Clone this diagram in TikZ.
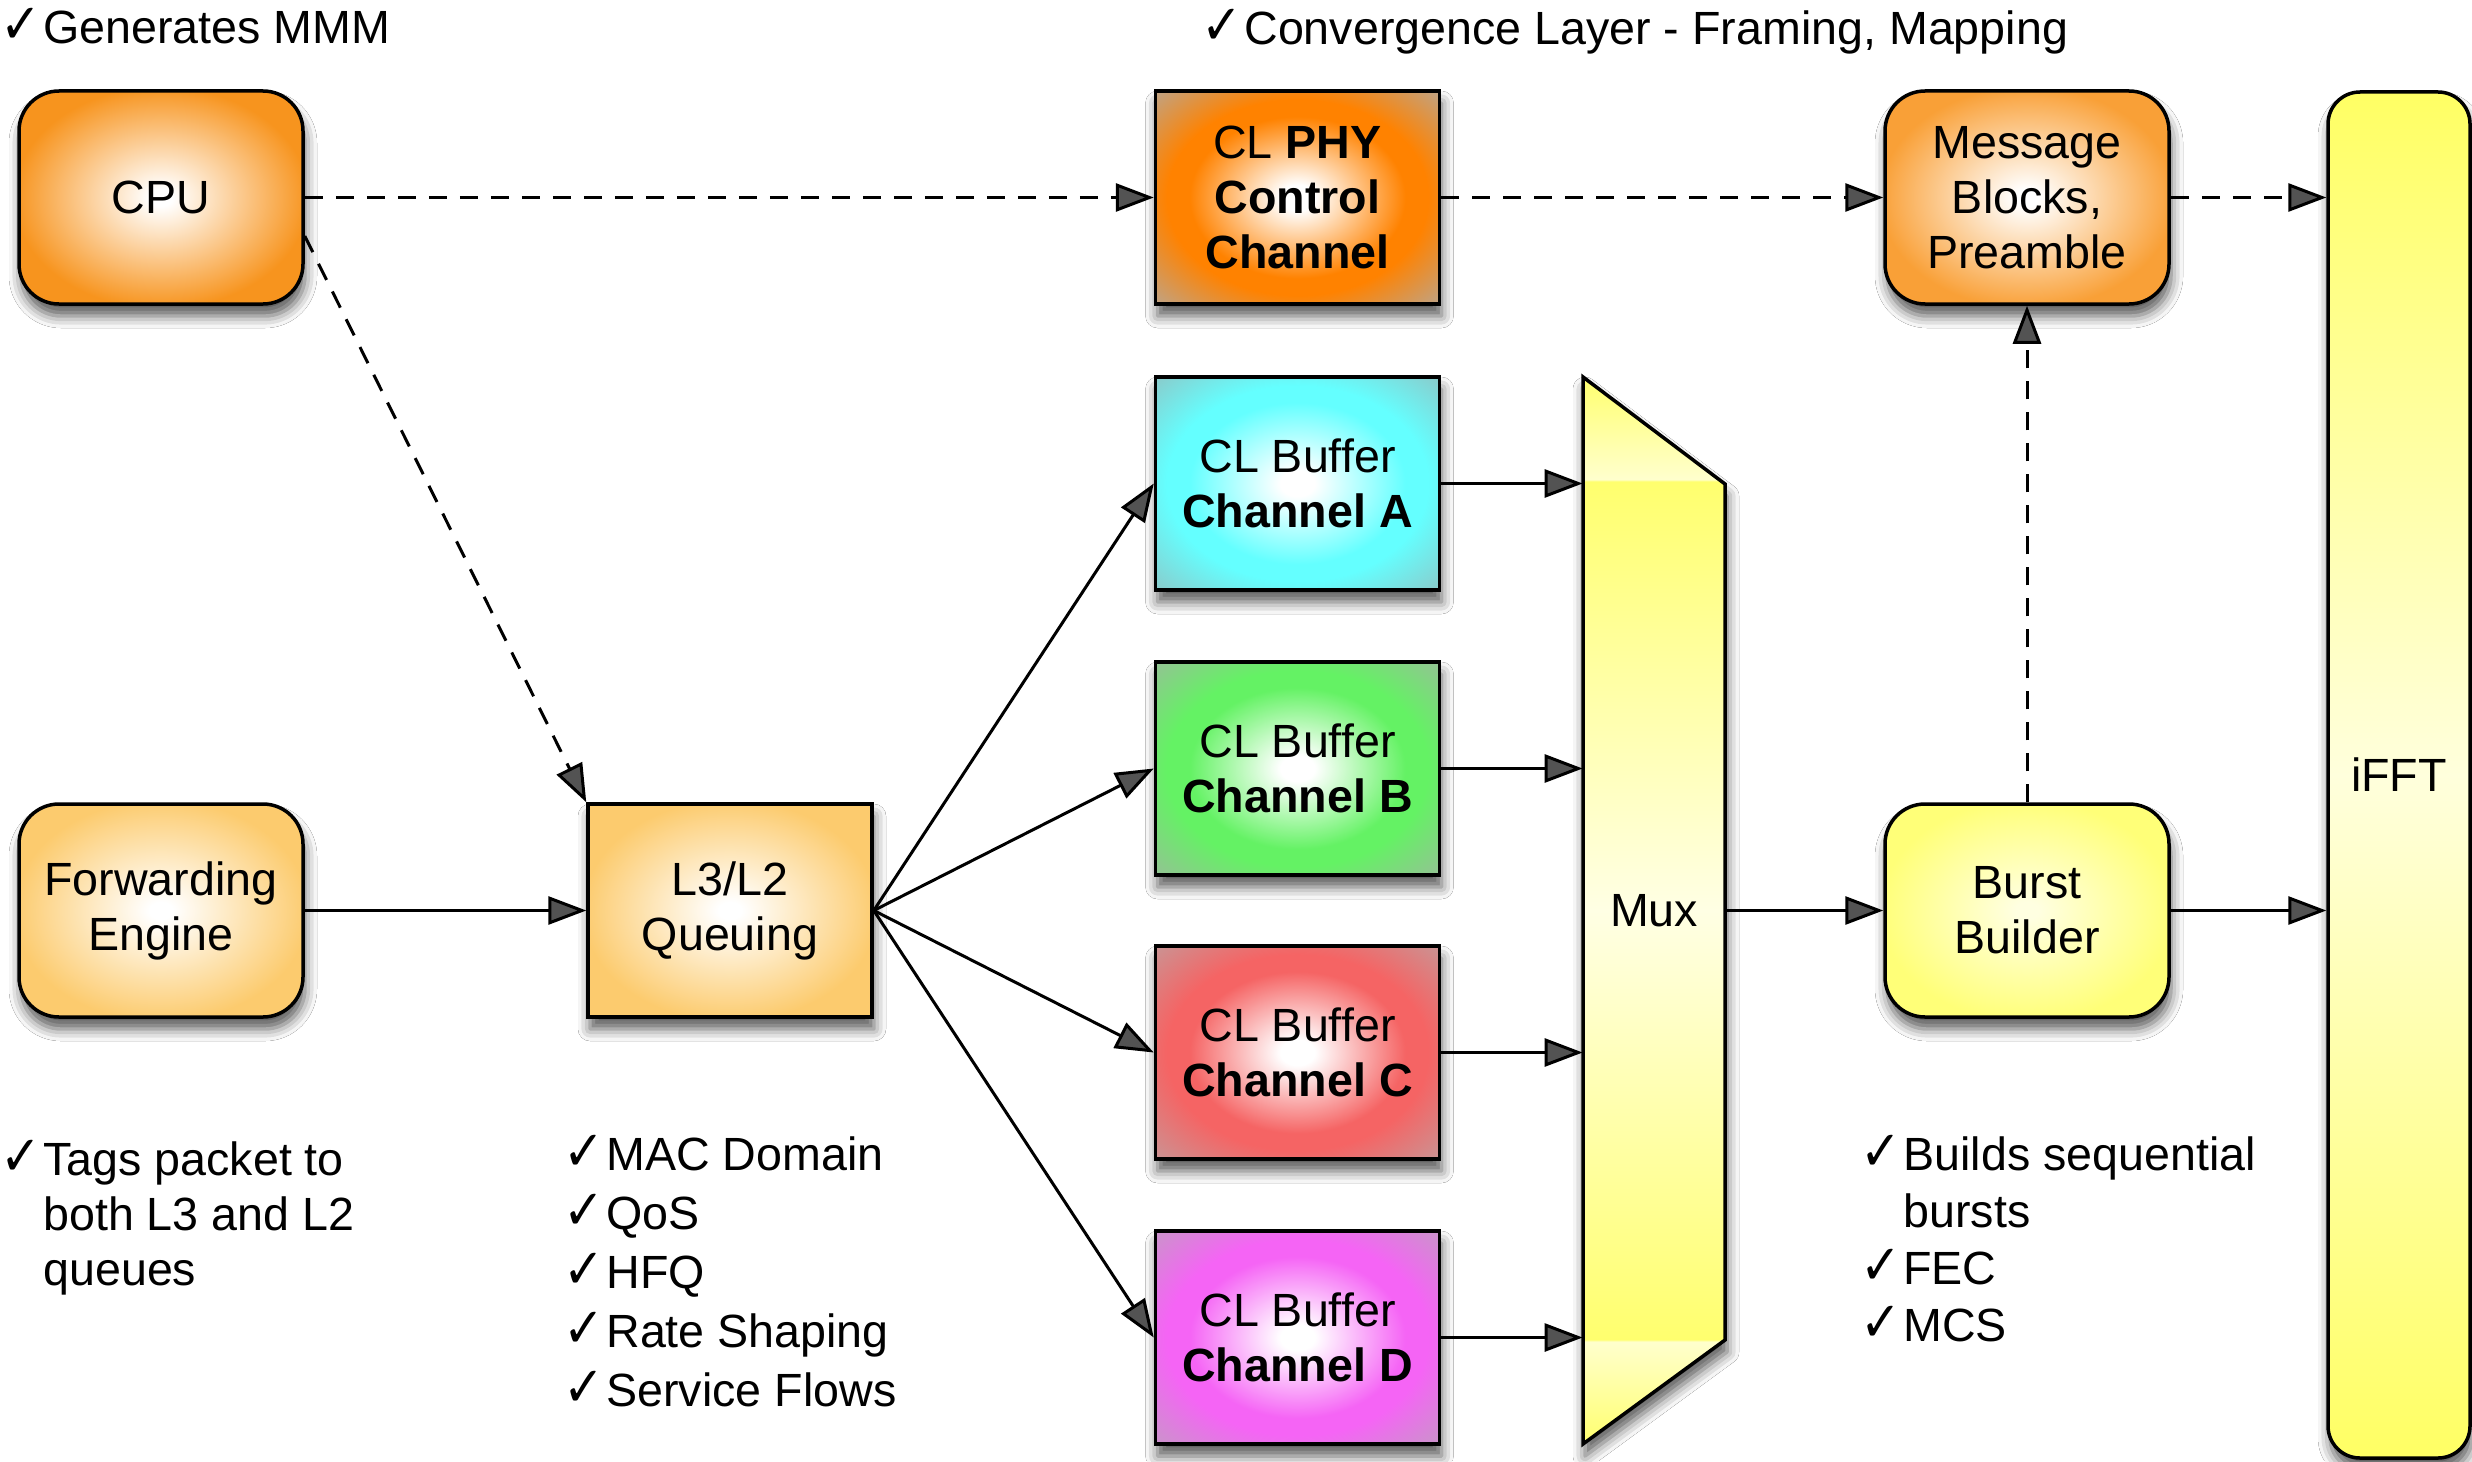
\documentclass[tikz,border=0pt]{standalone}
\usepackage{fontspec}
\usepackage{graphicx}
\setmainfont{Liberation Sans}
\newfontfamily\symfont{DejaVu Sans}
\usetikzlibrary{arrows.meta,shadows.blur,calc}
\definecolor{cpuOr}{RGB}{247,148,30}
\definecolor{msgOr}{RGB}{249,160,55}
\definecolor{phyOr}{RGB}{255,130,0}
\definecolor{phyOut}{RGB}{188,165,140}
\definecolor{feOr}{RGB}{252,203,110}
\definecolor{chA}{RGB}{100,255,255}
\definecolor{chAo}{RGB}{140,200,200}
\definecolor{chB}{RGB}{100,242,100}
\definecolor{chBo}{RGB}{150,192,150}
\definecolor{chC}{RGB}{245,100,100}
\definecolor{chCo}{RGB}{200,150,150}
\definecolor{chD}{RGB}{245,100,245}
\definecolor{chDo}{RGB}{200,150,200}
\definecolor{yel}{RGB}{255,255,120}
\definecolor{burstIn}{RGB}{255,255,225}
\definecolor{ifY}{RGB}{255,255,100}
\definecolor{ifP}{RGB}{255,255,220}
\definecolor{muxY}{RGB}{255,255,110}
\definecolor{muxP}{RGB}{255,255,205}
\definecolor{muxW}{RGB}{255,255,228}
\pgfdeclareradialshading[glowin,glowmid,glowout]{glow}{\pgfpoint{0bp}{0bp}}{color(0bp)=(glowin); color(3bp)=(glowin); color(19bp)=(glowmid); color(23bp)=(glowmid); color(36bp)=(glowout); color(50bp)=(glowout)}
\pgfdeclareradialshading[softin,softout]{softglow}{\pgfpoint{0bp}{0bp}}{color(0bp)=(softin); color(2bp)=(softin); color(26bp)=(softout); color(50bp)=(softout)}
\pgfdeclareverticalshading{muxshade}{100bp}{color(0bp)=(muxY); color(25bp)=(muxY); color(29.8bp)=(muxP); color(29.9bp)=(muxY); color(50bp)=(muxW); color(70.1bp)=(muxY); color(70.2bp)=(muxP); color(75bp)=(muxY); color(100bp)=(muxY)}
\newcommand\chk{\makebox[21.5pt][l]{\scalebox{1.05}[1.2]{\symfont ✓}}}
\begin{document}
\begin{tikzpicture}[x=0.5pt,y=-0.5pt,
  font=\fontsize{23.3}{27.5}\selectfont,
  shadowed/.style={blur shadow={shadow xshift=1pt, shadow yshift=-6pt, shadow blur radius=6pt, shadow opacity=65}},
  box/.style={draw, line width=1.75pt, align=center, inner sep=0pt, minimum width=142pt, minimum height=106.5pt, shadowed},
  rbox/.style={box, rounded corners=20pt},
  glowfill/.style n args={3}{/utils/exec={\colorlet{glowin}{#1}\colorlet{glowmid}{#2}\colorlet{glowout}{#3}}, shade, shading=glow},
  softfill/.style 2 args={/utils/exec={\colorlet{softin}{#1}\colorlet{softout}{#2}}, shade, shading=softglow},
  arr/.style={line width=1.5pt, -{Triangle[length=19pt,width=14pt]}},
  dasharr/.style={arr, dash pattern=on 9pt off 6.5pt},
  note/.style={anchor=base west, inner sep=0pt, align=left}]
\useasboundingbox[fill=white] (0,0) rectangle (2472,1461);

% boxes
\node[rbox, softfill={white}{cpuOr}] (cpu) at (161,197.5) {CPU};
\node[box, glowfill={white}{phyOr}{phyOut}] (phy) at (1297.5,197.5) {CL \textbf{PHY}\\\textbf{Control}\\\textbf{Channel}};
\node[rbox, softfill={white}{msgOr}] (msg) at (2027,197.5) {Message\\Blocks,\\Preamble};
\node[rbox, softfill={white}{feOr}] (fe) at (161,910.5) {Forwarding\\Engine};
\node[box, softfill={white}{feOr}] (l3) at (730,910.5) {L3/L2\\Queuing};
\node[box, glowfill={white}{chA}{chAo}] (cha) at (1297.5,483.5) {CL Buffer\\\textbf{Channel A}};
\node[box, glowfill={white}{chB}{chBo}] (chb) at (1297.5,768.5) {CL Buffer\\\textbf{Channel B}};
\node[box, glowfill={white}{chC}{chCo}] (chc) at (1297.5,1052.5) {CL Buffer\\\textbf{Channel C}};
\node[box, glowfill={white}{chD}{chDo}] (chd) at (1297.5,1337.5) {CL Buffer\\\textbf{Channel D}};
\node[rbox, softfill={burstIn}{yel}] (burst) at (2027,910.5) {Burst\\Builder};
\node[draw, line width=1.75pt, rounded corners=16pt, inner sep=0pt, minimum width=71pt, minimum height=683pt, top color=ifY, bottom color=ifY, middle color=ifP, shadowed] (ifft) at (2399,775) {iFFT};

% mux
\coordinate (muxnw) at (1583,377);
\coordinate (muxne) at (1725,484);
\coordinate (muxse) at (1725,1340);
\coordinate (muxsw) at (1583,1444);
\path[draw, line width=1.75pt, shade, shading=muxshade, shadowed] (muxnw) -- (muxne) -- (muxse) -- (muxsw) -- cycle;
\node[inner sep=0pt, minimum width=71pt, minimum height=533.5pt] (mux) at (1654,910.5) {Mux};

% connectors
\draw[dasharr] (cpu.east) -- (phy.west);
\draw[dasharr] (phy.east) -- (msg.west);
\draw[dasharr] (msg.east) -- (msg.east -| ifft.west);
\draw[dasharr] ($(cpu.east)+(0,38.5)$) -- (l3.north west);
\draw[dasharr] (burst.north) -- (msg.south);
\draw[arr] (fe.east) -- (l3.west);
\draw[arr] (l3.east) -- (cha.west);
\draw[arr] (l3.east) -- (chb.west);
\draw[arr] (l3.east) -- (chc.west);
\draw[arr] (l3.east) -- (chd.west);
\draw[arr] (cha.east) -- (cha.east -| mux.west);
\draw[arr] (chb.east) -- (chb.east -| mux.west);
\draw[arr] (chc.east) -- (chc.east -| mux.west);
\draw[arr] (chd.east) -- (chd.east -| mux.west);
\draw[arr] (mux.east |- burst.west) -- (burst.west);
\draw[arr] (burst.east) -- (burst.east -| ifft.west);

% notes
\node[note] (gen) at (0,44) {\chk Generates MMM};
\node[note] (conv) at (1201,45) {\chk Convergence Layer - Framing, Mapping};
\node[note, font=\fontsize{23.3}{27.5}\selectfont] (tags) at (0,1175) {\begin{tabular}[t]{@{}l@{}l@{}}\chk&Tags packet to\\&both L3 and L2\\&queues\end{tabular}};
\node[note, font=\fontsize{23.3}{29.5}\selectfont] (mac) at (563,1170) {\begin{tabular}[t]{@{}l@{}l@{}}\chk&MAC Domain\\\chk&QoS\\\chk&HFQ\\\chk&Rate Shaping\\\chk&Service Flows\end{tabular}};
\node[note, font=\fontsize{23.3}{28.5}\selectfont] (builds) at (1860,1170) {\begin{tabular}[t]{@{}l@{}l@{}}\chk&Builds sequential\\&bursts\\\chk&FEC\\\chk&MCS\end{tabular}};
\end{tikzpicture}
\end{document}
